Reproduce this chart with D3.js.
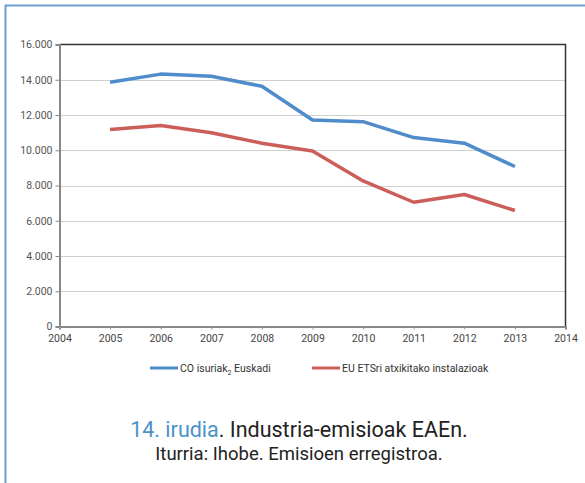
<!DOCTYPE html>
<html>
<head>
<meta charset="utf-8">
<script src="https://cdn.jsdelivr.net/npm/d3@7"></script>
<style>
  html, body { margin: 0; padding: 0; background: #fff; }
  svg { display: block; }
</style>
</head>
<body>
<svg id="chart" width="585" height="483"></svg>
<script>
// Industrial CO2 emissions in the Basque Country (kt)
const years = [2005, 2006, 2007, 2008, 2009, 2010, 2011, 2012, 2013];
const euskadiTotal = [13860, 14320, 14200, 13630, 11720, 11620, 10720, 10400, 9080];
const etsInstallations = [11180, 11400, 10990, 10400, 9960, 8260, 7050, 7490, 6580];
const yTicks = [0, 2000, 4000, 6000, 8000, 10000, 12000, 14000, 16000];
const xTicks = [2004, 2005, 2006, 2007, 2008, 2009, 2010, 2011, 2012, 2013, 2014];
const seriesNames = ["CO isuriak", "EU ETSri atxikitako instalazioak"];
const seriesColors = ["#4f8cc9", "#cc5e5a"];

const svg = d3.select("#chart");
const fmt = d => d3.format(",")(d).replace(/,/g, ".");
const font = "Roboto, 'Liberation Sans', sans-serif";

// Outer frame
svg.append("rect")
  .attr("x", 5.5).attr("y", 5.5)
  .attr("width", 600).attr("height", 500)
  .attr("fill", "none").attr("stroke", "#6a9fd0").attr("stroke-width", 2);

const plotL = 59.5, plotR = 565.5, plotT = 44.5, plotB = 326.5;
const x = d3.scaleLinear().domain([2004, 2014]).range([plotL, plotR]);
const y = d3.scaleLinear().domain([0, 16000]).range([plotB, plotT]);

// Horizontal gridlines
svg.append("g").selectAll("line")
  .data(yTicks.filter(d => d > 0 && d < 16000))
  .join("line")
  .attr("x1", plotL).attr("x2", plotR)
  .attr("y1", d => Math.round(y(d)) + 0.5).attr("y2", d => Math.round(y(d)) + 0.5)
  .attr("stroke", "#d0d0d0").attr("stroke-width", 1);

// Top and right frame of the plot
svg.append("path")
  .attr("d", `M${plotL},${plotT}H${plotR}V${plotB}`)
  .attr("fill", "none").attr("stroke", "#333").attr("stroke-width", 1.5);

// Y axis
const yAxis = svg.append("g")
  .attr("transform", `translate(${plotL},0)`)
  .call(d3.axisLeft(y).tickValues(yTicks).tickFormat(fmt).tickSize(4).tickPadding(3));
yAxis.select(".domain").attr("stroke", "#888").attr("stroke-width", 2);
yAxis.selectAll(".tick line").attr("stroke", "#888");
yAxis.selectAll("text")
  .attr("fill", "#555").attr("font-size", 10.5)
  .attr("font-family", font);

// X axis
const xAxis = svg.append("g")
  .attr("transform", `translate(0,${plotB})`)
  .call(d3.axisBottom(x).tickValues(xTicks).tickFormat(d3.format("d")).tickSize(3).tickPadding(5));
xAxis.select(".domain").attr("stroke", "#888").attr("stroke-width", 2);
xAxis.selectAll(".tick line").attr("stroke", "#999");
xAxis.selectAll("text")
  .attr("fill", "#444").attr("font-size", 10.5)
  .attr("font-family", font);

// Series lines
const line = d3.line().x((d, i) => x(years[i])).y(d => y(d));
[euskadiTotal, etsInstallations].forEach((vals, k) => {
  svg.append("path")
    .datum(vals)
    .attr("d", line)
    .attr("fill", "none")
    .attr("stroke", seriesColors[k])
    .attr("stroke-width", 3.5)
    .attr("stroke-linejoin", "round");
});

// Legend
const legendY = 368;
const lg1 = svg.append("g");
lg1.append("line").attr("x1", 150).attr("x2", 178).attr("y1", legendY).attr("y2", legendY)
  .attr("stroke", seriesColors[0]).attr("stroke-width", 3);
const t1 = lg1.append("text").attr("x", 180).attr("y", legendY + 4)
  .attr("font-size", 10.5).attr("fill", "#333").attr("font-family", font);
t1.append("tspan").text(seriesNames[0]);
t1.append("tspan").attr("font-size", 7).attr("dy", 3).text("2");
t1.append("tspan").attr("dy", -3).text(" Euskadi");

const lg2 = svg.append("g");
lg2.append("line").attr("x1", 312).attr("x2", 340).attr("y1", legendY).attr("y2", legendY)
  .attr("stroke", seriesColors[1]).attr("stroke-width", 3);
lg2.append("text").attr("x", 342).attr("y", legendY + 4)
  .attr("font-size", 10.5).attr("fill", "#333").attr("font-family", font)
  .text(seriesNames[1]);

// Caption
const cap = svg.append("text")
  .attr("x", 299).attr("y", 437)
  .attr("text-anchor", "middle")
  .attr("font-size", 21.5).attr("font-family", font).attr("fill", "#222");
cap.append("tspan").attr("fill", "#4a92c8").text("14. irudia");
cap.append("tspan").text(". Industria-emisioak EAEn.");

svg.append("text")
  .attr("x", 299).attr("y", 460)
  .attr("text-anchor", "middle")
  .attr("font-size", 18.5).attr("font-family", font).attr("fill", "#222")
  .text("Iturria: Ihobe. Emisioen erregistroa.");
</script>
</body>
</html>
